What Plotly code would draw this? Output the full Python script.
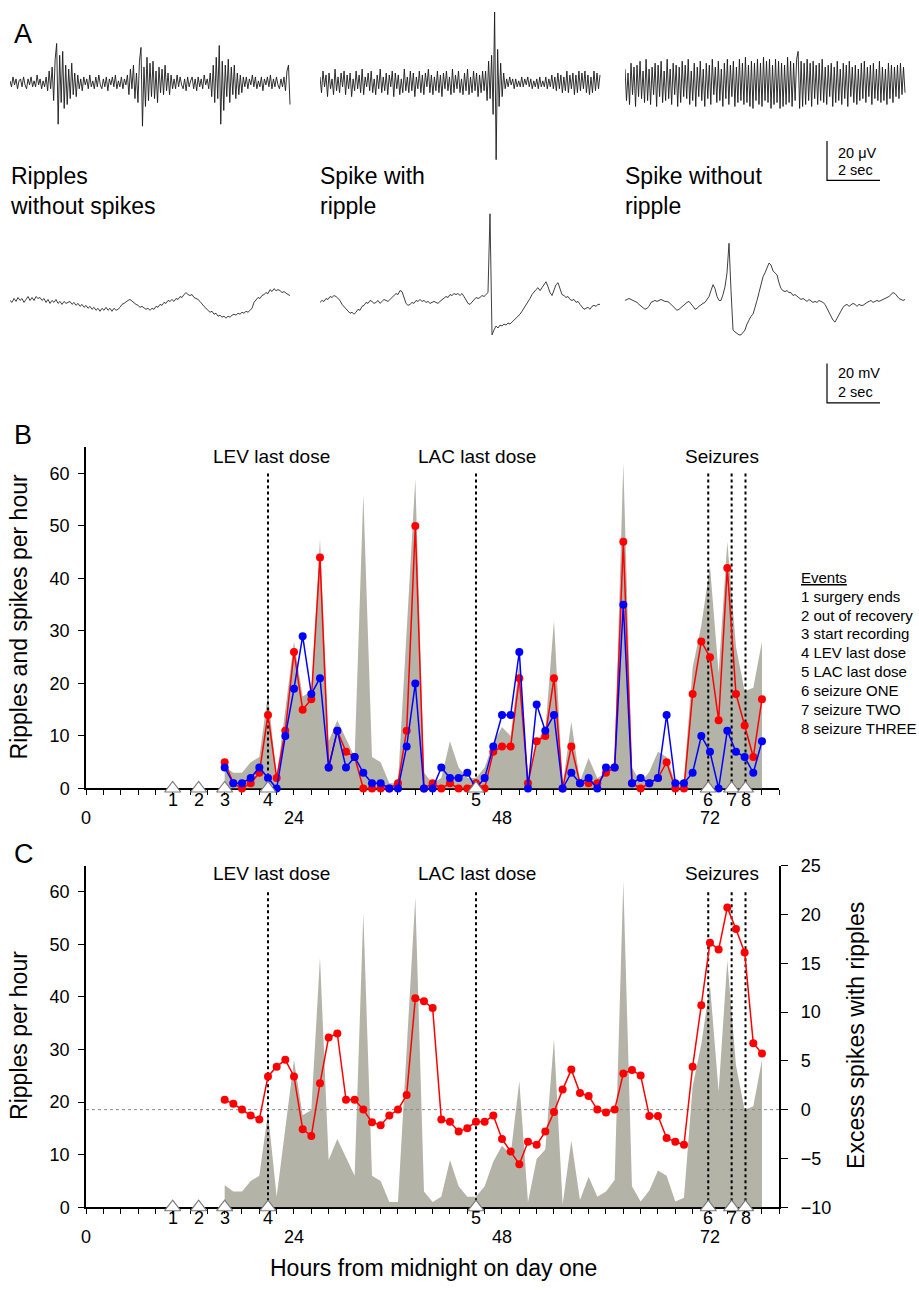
import plotly.graph_objects as go

W, H = 919, 1296
FONT = "Liberation Sans, Arial, sans-serif"

# ---------------- data: panels B and C ----------------
hours = list(range(16, 79))
ripples_per_hour = [4.2, 3, 3, 5, 6, 18, 2, 15, 28, 17.5, 18.5, 47.5, 9, 13, 9.5, 6, 56, 6, 5, 1,
                    1, 30, 59, 3, 1, 2, 9, 4, 2, 2, 4, 8.7, 11.7, 10, 24, 1, 9.2, 11, 32, 0.5,
                    12.7, 1.4, 5.8, 2, 3, 5.2, 62, 4, 1.1, 3.2, 7, 6, 1.1, 1.8, 23, 31, 42.3, 22,
                    47, 27, 18.5, 19.2, 28]
spikes_per_hour = [5, 1, 0, 1, 3, 14, 2, 11, 26, 15, 17, 44, 4, 11, 7, 6, 0, 0, 0, 0,
                   1, 11, 50, 0, 1, 0, 1, 0, 0, 1, 0, 7, 8, 8, 21, 1, 9, 10, 21, 0,
                   8, 1, 1, 1, 3, 4, 47, 1, 0, 1, 2, 5, 0, 0, 18, 28, 25, 13,
                   42, 18, 12, 6, 17]
spikes_with_ripples = [4, 1, 1, 2, 4, 2, 0, 10, 19, 29, 18, 21, 4, 11, 4, 6, 3, 1, 1, 0,
                       0, 8, 20, 0, 0, 4, 2, 2, 3, 0, 2, 8, 14, 14, 26, 0, 16, 11, 14, 0,
                       3, 1, 2, 0, 4, 4, 35, 1, 2, 1, 2, 14, 1, 1, 3, 10, 7, 0,
                       11, 7, 6, 3, 9]
excess_spikes_with_ripples = [1.0, 0.6, 0.0, -0.6, -1.0, 3.4, 4.4, 5.1, 3.4, -2.0, -2.7, 2.7, 7.4, 7.8,
                              1.0, 1.0, 0.0, -1.3, -1.6, -0.6, 0.0, 1.5, 11.4, 11.1, 10.4, -1.0,
                              -1.25, -2.25, -1.9, -1.25, -1.25, -0.6, -3.0, -4.3, -5.6, -3.3, -3.6,
                              -2.25, -0.25, 2.05, 4.1, 1.7, 1.4, 0.0, -0.3, 0.0, 3.7, 4.05, 3.5,
                              -0.65, -0.65, -2.9, -3.3, -3.6, 4.4, 10.7, 17.1, 16.4, 20.7, 18.5,
                              16.1, 6.8, 5.75]
event_hours = [10, 13, 16, 21, 45, 71.8, 74.5, 76.1]
event_labels = ["1", "2", "3", "4", "5", "6", "7", "8"]
event_names = ["surgery ends", "out of recovery", "start recording", "LEV last dose",
               "LAC last dose", "seizure ONE", "seizure TWO", "seizure THREE"]
marked_events = [3, 4, 5, 6, 7]          # indices of events drawn as dotted lines
marker_line_top = 60
header_texts = ["LEV last dose", "LAC last dose", "Seizures"]
header_hours = [21.45, 45.1, 73.4]
hour_tick_labels = [0, 24, 48, 72]
x_minor_ticks = list(range(0, 81, 2))
left_ticks = [0, 10, 20, 30, 40, 50, 60]
right_ticks = [-10, -5, 0, 5, 10, 15, 20, 25]

# ---------------- data: panel A (example traces) ----------------
trace_titles = ["Ripples<br>without spikes", "Spike with<br>ripple", "Spike without<br>ripple"]
ripples_no_spike_uv = [1, -2, 3, -1, 2, -3, 1, 2, -2, 3, -1, -3, 2, -1, 3, -2, 1, -2, 4, -1, 2, -3, 1, -2, 3,
                       -4, 6, -3, 8, -9, 12, 20, -21, 14, -10, 16, -13, 9, -11, 7, -8, 10, -6, 5, -7, 4,
                       -3, 2, -4, 3, -1, 2, -3, 4, -2, 1, -3, 3, -2, 4, -1, -3, 2, -2, 3, -4, 2, -1, 3, -2,
                       4, -3, 1, -2, 3, -3, 2, -1,
                       4, -6, 7, -3, 9, -8, 5, -10, 11, 18, -22, 8, -12, 13, -9, 10, -7, 11, -8, 6, -10, 8,
                       -5, 7, -6, 9, -4, 5, -6, 4, -3,
                       2, -3, 4, -2, 3, -1, -3, 2, -4, 3, -2, 1, 3, -3, 2, -4, 3, -2, 2, -3, 4, -1, 2, -3,
                       5, -7, 9, -10, 13, -8, 19, -21, 11, -14, 9, -7, 12, -10, 8, -6, 9, -8, 5, -6, 4, -5, 3,
                       -2, 3, -3, 2, -1, 4, -2, 3, -3, 1, -2, 3, -4, 2, -1, 3, -2, 4, -3, 2, -2, 3, -1, -3,
                       2, -2, 3, -4, 6, 9, -11]
spike_ripple_uv = [3, -5, 6, -2, 4, -7, 5, -3, 2, -6, 7, -4, 3, -5, 5, -2, 6, -6, 4, -3,
                   5, -7, 2, -4, 6, -3, 4, -5, 7, -6, 3, -2, 5, -4, 6, -5, 2, -6, 4, -3,
                   7, -5, 3, -4, 5, -6, 4, -2, 6, -7, 5, -3, 4, -6, 2, -5, 7, -4, 3, -5,
                   6, -4, 5, -7, 3, -3, 6, -5, 4, -6, 5, -2, 7, -5, 4, -6, 3, -4, 6, -5,
                   4, -7, 5, -3, 6, -4, 3, -6, 7, -5, 4, -3, 6, -5, 2, -6, 5, -4, 7, -6,
                   3, -5, 6, -4, 5, -7, 4, -5, 6, -4,
                   6, -9, 11, -8, 14, -16, 36, -39, 17, -12, 10, -7, 5,
                   -3, 2, -2, 3, -1, 2, -3, 2, -2, 1, -2, 3, -2, 2, -1, 3, -2, 2, -3, 1,
                   -2, 2, -3, 3, -2, 1, -2, 3, -3, 2, -2, 4, -3, 3, -4, 5, -3, 4, -5, 3,
                   -4, 6, -5, 4, -3, 5, -6, 4, -5, 6, -4, 5, -3, 6, -5, 4, -6, 3, -5, 6,
                   -4, 5, -3, 4]
spike_no_ripple_uv = [7, -9, 5, -11, 10, -6, 8, -12, 9, -7, 11, -8, 6, -10, 12, -9, 7, -11, 8, -6,
                      10, -12, 9, -7, 11, -10, 6, -9, 12, -8, 7, -11, 10, -6, 9, -12, 8, -10, 11, -7,
                      9, -8, 12, -11, 6, -9, 10, -12, 8, -7, 11, -9, 7, -12, 10, -8, 9, -11, 12, -6,
                      8, -10, 11, -9, 7, -12, 10, -8, 12, -11, 9, -7, 11, -12, 8, -10, 12, -9, 10, -11,
                      13, -10, 9, -12, 11, -13, 10, -9, 12, -11, 10, -12, 13, -9, 11, -10, 12, -13, 9, -11,
                      12, -10, 11, -13, 10, -12, 9, -11, 13, -10, 11, -12, 10, -9, 12, 16, -13, 11, -12, 10,
                      -11, 12, -9, 10, -12, 11, -8, 9, -11, 10, -9, 12, -10, 8, -11, 9, -7, 10, -12, 8,
                      -10, 11, -9, 7, -11, 10, -8, 9, -12, 11, -7, 8, -10, 9, -11, 7, -9, 10, -8, 11,
                      -10, 8, -7, 9, -11, 10, -8, 7, -9, 11, -10, 8, -9, 7, -11, 10, -8, 9, -10, 8,
                      -7, 9, -8, 10, -6, 8, -5]
ripples_no_spike_mv = [1, 0, 2, 0.5, 2.5, 1, 2, 0, 1.5, 3, 1, 2.5, 1, 3, 2,
                       2.5, 1, 2, 0, 1.5, -0.5, 1, 0, 1.5, -0.5, 0.5, -1, 0.5, -0.5, 0,
                       0.5, -1, 0, -1.5, -0.5, -2, -1, -2.5, -1.5, -3, -2, -3.5, -2.5, -4, -3,
                       -4.5, -3, -4, -2.5, -4, -3, -4.5, -3, -4, -3.5, -2.5, -1, -0.5, 0.5, 1,
                       1.5, 0.5, 0, -1, -1.5, -2.5, -2, -3, -3.5, -3, -4, -3, -3.5, -2, -2.5,
                       -1, -1.5, 0, -0.5, 1, 0.5, 1.5, 0.5, 2, 1.5, 3, 2.5, 4, 5, 4,
                       3.5, 4, 2.5, 2, 1.5, 0.5, -1, -2, -3, -4, -5, -4.5, -6, -5.5, -7,
                       -6.5, -7.5, -7, -8, -7, -7.5, -6.5, -6, -6.5, -5.5, -6, -5, -5.5, -4.5, -5,
                       -4, -3, 0, 1, 2.5, 2, 3.5, 4, 5, 4.5, 6.5, 5.5, 7, 6, 6.5,
                       6, 5, 5.5, 4.5, 4, 3.5]
spike_ripple_mv = [0, 1, 0.5, 2, 1.5, 3, 2.5, 3.5, 3,
                   2, 1, -1, -2, -3.5, -4, -5.5, -5, -6,
                   -5, -3.5, -4, -2, -1.5, 0, -0.5, 1,
                   0.5, -0.5, 0, 1, -0.5, 0.5, 1.5, 1, 0.5, 1.5,
                   2.5, 3, 4.5, 4, 6, 5.5,
                   2, -0.5, -1.5,
                   -1, 0, -0.5, 1, 0.5, 1.5, 0.5, 1, 0, 0.5, -0.5, 0, 0.5, 0, -0.5,
                   0.5, 1.5, 2, 3, 2.5, 4, 3.5, 4.5, 4, 4.5, 3.5, 4.5,
                   3, 1, -0.5, -1, 0, 1, 2.5, 2, 2.5, 3.5, 3, 4, 5,
                   45, -16.5,
                   -14, -12, -13, -11.5, -12, -11, -11.5, -10.5, -11,
                   -10, -9, -8.5, -7, -6, -4.5, -3, -1.5, 0.5, 2, 4, 5.5,
                   6.5, 7.5, 6, 7.5, 9, 10.5, 8, 5, 3.5, 6, 9, 10, 7, 4, 3.5,
                   2.5, 3, 1.5, 1, 1.5, 0, 0.5, -1, -2, -3.5, -3, -2.5, -3.5, -2, -1.5, -2, -1, -1]
spike_no_ripple_mv = [1, 1.5, 2, 1.5, 1, 0.5, 0, -1, -2, -3,
                      -3.5, -3, -2, 0, 0.5, 1, 0.5, 1, 1.5, 1,
                      0.5, 0.5, 0, -1, -2, -3, -4, -3.5, -2.5, -1.5,
                      -0.5, 0, 0.5, -0.5, -2, -3.5, -3, -2, -1, -0.5,
                      0, 1.5, 3, 6, 9, 7, 3, 1, 1, 4,
                      8, 15, 30, 6, -14, -15, -16, -16.5, -16.5, -15.5,
                      -14, -11, -9, -7, -6, -3, 1, 5, 9, 13,
                      15, 18, 20, 19, 16, 15, 14, 10, 7, 6,
                      5.5, 6, 5, 5, 3.5, 4, 3, 2, 1.5, 2,
                      1, 0.5, 1.5, 0.5, 0, 0.5, 0, 1, 0.5, 0,
                      -1, -3, -5, -7, -9, -10, -8, -6, -4, -2.5,
                      -1.5, -1, -2, -1, -0.5, -1, -2, -1, -1.5, -1.5,
                      -0.5, 0, 0.5, 1, 0, 0.5, 1, 0.5, 1, 1.5,
                      2, 2.5, 3, 4, 5, 4.5, 3, 2, 1.5, 1, 1.5]
scale_bar_seconds = 2
scale_bar_amplitude = 20
scale_bar_labels = [["20 μV", "2 sec"], ["20 mV", "2 sec"]]

# ---------------- layout helpers ----------------
def px(x):
    return x / W

def py(y):
    return 1 - y / H

GRAY = "#b3b3a8"
RED = "#ff0000"
BLUE = "#0000ff"

fig = go.Figure()
layout = dict(width=W, height=H, margin=dict(l=0, r=0, t=0, b=0), autosize=False,
              paper_bgcolor="white", plot_bgcolor="rgba(0,0,0,0)",
              showlegend=False, font=dict(family=FONT, color="black", size=16))
annotations = []

# ---------------- Panel A ----------------
PX_PER_SEC = 26.5
PX_PER_UNIT = 2.0
TRACE_W = 282
col_left = [10, 320, 625]
rows = [  # (top px, bottom px, centre px)
    (0, 182, 74),
    (200, 412, 297),
]
signals = [[ripples_no_spike_uv, spike_ripple_uv, spike_no_ripple_uv],
           [ripples_no_spike_mv, spike_ripple_mv, spike_no_ripple_mv]]
line_style = [dict(color="#1a1a1a", width=0.9), dict(color="#2a2a2a", width=0.9)]
bar_x_px = 827
bar_bottom_px = [173, 399]

for r, (top, bot, cen) in enumerate(rows):
    for c in range(3):
        k = 4 + r * 3 + c
        sig = signals[r][c]
        n = len(sig)
        dt = 280.0 / ((n - 1) * PX_PER_SEC)
        t = [j * dt for j in range(n)]
        layout[f"xaxis{k}"] = dict(domain=[px(col_left[c]), px(col_left[c] + TRACE_W)],
                                   range=[0, TRACE_W / PX_PER_SEC], visible=False,
                                   anchor=f"y{k}", fixedrange=True)
        layout[f"yaxis{k}"] = dict(domain=[py(bot), py(top)],
                                   range=[-(bot - cen) / PX_PER_UNIT, (cen - top) / PX_PER_UNIT],
                                   visible=False, anchor=f"x{k}", fixedrange=True)
        fig.add_trace(go.Scatter(x=t, y=sig, mode="lines", xaxis=f"x{k}", yaxis=f"y{k}",
                                 line=line_style[r], hoverinfo="skip"))
    # scale bar drawn in the axes of the third column
    k = 4 + r * 3 + 2
    t0 = (bar_x_px - col_left[2]) / PX_PER_SEC
    yb = (cen - bar_bottom_px[r]) / PX_PER_UNIT
    fig.add_trace(go.Scatter(x=[t0, t0, t0 + scale_bar_seconds],
                             y=[yb + scale_bar_amplitude, yb, yb],
                             mode="lines", xaxis=f"x{k}", yaxis=f"y{k}", cliponaxis=False,
                             line=dict(color="black", width=1.2), hoverinfo="skip"))

for c in range(3):
    annotations.append(dict(text=trace_titles[c], x=px(col_left[c] - 2), y=py(153), xref="paper",
                            yref="paper", xanchor="left", yanchor="top", showarrow=False,
                            align="left", font=dict(size=23)))
for r, (lab1, lab2) in enumerate(scale_bar_labels):
    yy = [(145, 163), (369, 388)][r]
    annotations.append(dict(text=lab1, x=px(836), y=py(yy[0]), xref="paper", yref="paper",
                            xanchor="left", yanchor="middle", showarrow=False, font=dict(size=14.5)))
    annotations.append(dict(text=lab2, x=px(836), y=py(yy[1]), xref="paper", yref="paper",
                            xanchor="left", yanchor="middle", showarrow=False, font=dict(size=14.5)))

# ---------------- Panels B and C ----------------
X0, X1 = 86, 779.3
panels = {
    "B": dict(xa="x", ya="y", y0=790.7, y1=444, ev_y=802, hr_y=821, head_y=453),
    "C": dict(xa="x2", ya="y2", y0=1216, y1=869, ev_y=1227, hr_y=1246, head_y=877),
}

xaxis_common = dict(range=[0, 80], showline=True, linecolor="black", linewidth=1.5,
                    ticks="outside", tickvals=x_minor_ticks, ticklen=5, tickwidth=1.3,
                    tickcolor="black", showticklabels=False, showgrid=False, zeroline=False,
                    domain=[px(X0), px(X1)], fixedrange=True, layer="below traces")
yaxis_common = dict(range=[0, 65], showline=True, linecolor="black", linewidth=1.5,
                    ticks="outside", tickvals=left_ticks, ticklen=6, tickwidth=1.3,
                    tickcolor="black", showgrid=False, zeroline=False, ticklabelstandoff=5,
                    tickfont=dict(size=18), fixedrange=True)

layout["xaxis"] = dict(xaxis_common, anchor="y")
layout["yaxis"] = dict(yaxis_common, anchor="x",
                       domain=[py(panels["B"]["y0"]), py(panels["B"]["y1"])])
layout["xaxis2"] = dict(xaxis_common, anchor="y2")
layout["yaxis2"] = dict(yaxis_common, anchor="x2",
                        domain=[py(panels["C"]["y0"]), py(panels["C"]["y1"])])
layout["yaxis3"] = dict(range=[-10, 25], overlaying="y2", side="right", anchor="x2",
                        showline=True, linecolor="black", linewidth=1.5, ticks="outside",
                        tickvals=right_ticks, ticklen=7, tickwidth=1.3, tickcolor="black",
                        showgrid=False, zeroline=False, ticklabelstandoff=9,
                        tickfont=dict(size=18), fixedrange=True)

def dotted_lines(xa, ya):
    xs, ys = [], []
    for i in marked_events:
        xs += [event_hours[i], event_hours[i], None]
        ys += [0, marker_line_top, None]
    return go.Scatter(x=xs, y=ys, mode="lines", xaxis=xa, yaxis=ya,
                      line=dict(color="black", width=2, dash="dot"), hoverinfo="skip")

def event_markers(xa, ya):
    return go.Scatter(x=event_hours, y=[0] * len(event_hours), mode="markers",
                      xaxis=xa, yaxis=ya, cliponaxis=False, hoverinfo="skip",
                      marker=dict(symbol="triangle-up", size=14, color="white",
                                  line=dict(color="#7a7a7a", width=1.2)))

# Panel B
fig.add_trace(go.Scatter(x=hours, y=ripples_per_hour, mode="lines", fill="tozeroy",
                         fillcolor=GRAY, line=dict(width=0, color=GRAY), xaxis="x", yaxis="y",
                         hoverinfo="skip"))
fig.add_trace(dotted_lines("x", "y"))
fig.add_trace(go.Scatter(x=hours, y=spikes_per_hour, mode="lines+markers", xaxis="x", yaxis="y",
                         cliponaxis=False, line=dict(color=RED, width=1.5),
                         marker=dict(color=RED, size=8)))
fig.add_trace(go.Scatter(x=hours, y=spikes_with_ripples, mode="lines+markers", xaxis="x",
                         yaxis="y", cliponaxis=False, line=dict(color=BLUE, width=1.5),
                         marker=dict(color=BLUE, size=8)))
fig.add_trace(event_markers("x", "y"))

# Panel C
fig.add_trace(go.Scatter(x=hours, y=ripples_per_hour, mode="lines", fill="tozeroy",
                         fillcolor=GRAY, line=dict(width=0, color=GRAY), xaxis="x2", yaxis="y2",
                         hoverinfo="skip"))
fig.add_trace(go.Scatter(x=[0, 80], y=[0, 0], mode="lines", xaxis="x2", yaxis="y3",
                         line=dict(color="#8c8c8c", width=1, dash="dot"), hoverinfo="skip"))
fig.add_trace(dotted_lines("x2", "y2"))
fig.add_trace(go.Scatter(x=hours, y=excess_spikes_with_ripples, mode="lines+markers",
                         xaxis="x2", yaxis="y3", cliponaxis=False,
                         line=dict(color=RED, width=1.5), marker=dict(color=RED, size=8)))
fig.add_trace(event_markers("x2", "y2"))

for name, p in panels.items():
    for lab, h in zip(event_labels, event_hours):
        annotations.append(dict(text=lab, x=h, y=py(p["ev_y"]), xref=p["xa"], yref="paper",
                                showarrow=False, xanchor="center", yanchor="middle",
                                font=dict(size=18)))
    for h in hour_tick_labels:
        annotations.append(dict(text=str(h), x=h, y=py(p["hr_y"]), xref=p["xa"], yref="paper",
                                showarrow=False, xanchor="center", yanchor="middle",
                                font=dict(size=18)))
    for txt, h in zip(header_texts, header_hours):
        annotations.append(dict(text=txt, x=h, y=py(p["head_y"]), xref=p["xa"], yref="paper",
                                showarrow=False, xanchor="center", yanchor="middle",
                                font=dict(size=19)))

# axis titles
for txt, x, y in [("Ripples and spikes per hour", 19, 617), ("Ripples per hour", 19, 1042),
                  ("Excess spikes with ripples", 856, 1042)]:
    annotations.append(dict(text=txt, x=px(x), y=py(y), xref="paper", yref="paper",
                            xanchor="center", yanchor="middle", textangle=-90,
                            showarrow=False, font=dict(size=23)))
annotations.append(dict(text="Hours from midnight on day one", x=px(433), y=py(1278),
                        xref="paper", yref="paper", xanchor="center", yanchor="middle",
                        showarrow=False, font=dict(size=23)))

# events legend
annotations.append(dict(text="<u>Events</u>", x=px(799), y=py(576), xref="paper", yref="paper",
                        xanchor="left", yanchor="middle", showarrow=False, font=dict(size=15)))
for i, (lab, nm) in enumerate(zip(event_labels, event_names)):
    annotations.append(dict(text=f"{lab} {nm}", x=px(799), y=py(595.3 + 19.2 * i),
                            xref="paper", yref="paper", xanchor="left", yanchor="middle",
                            showarrow=False, font=dict(size=15)))

# panel letters
for letter, (lx, ly) in zip(["A", "B", "C"], [(12, 24), (12, 432), (12, 857)]):
    annotations.append(dict(text=letter, x=px(lx), y=py(ly), xref="paper", yref="paper",
                            xanchor="left", yanchor="middle", showarrow=False,
                            font=dict(size=27)))

layout["annotations"] = annotations
fig.update_layout(**layout)
# the page's default 8px body margin would shift the figure; remove it
fig.write_html("out.html", config={"displayModeBar": False},
               post_script="document.body.style.margin='0px';")
